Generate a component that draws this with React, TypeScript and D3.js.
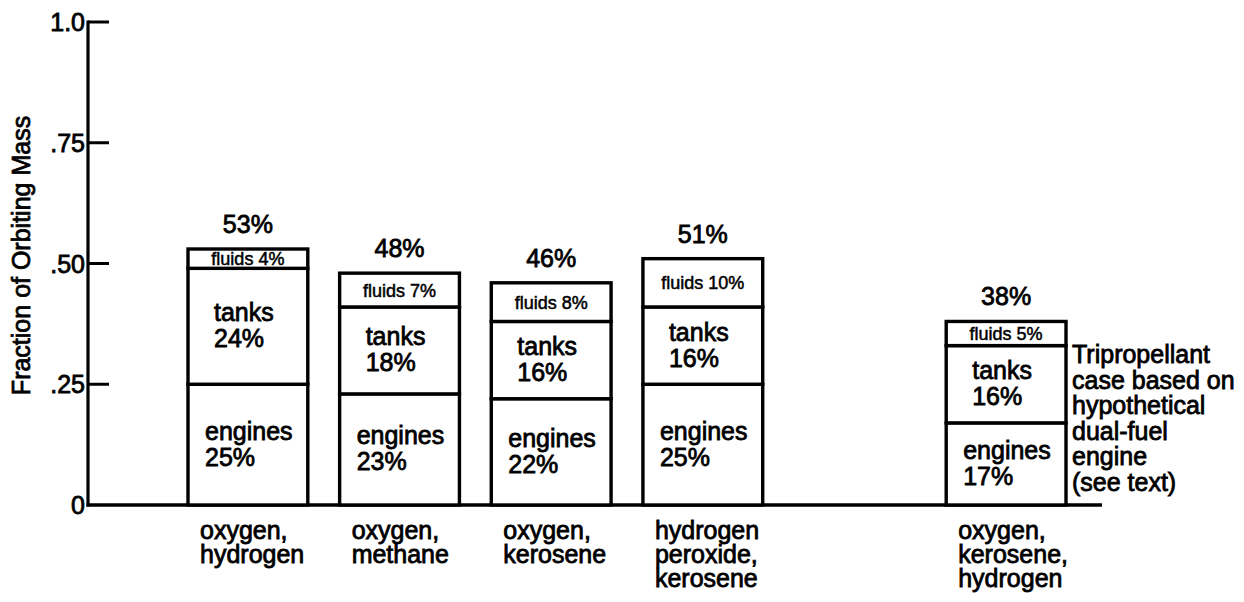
import { scaleBand, scaleLinear, stack } from "d3"

// bars, left to right (the gap before the tripropellant case is a blank slot)
const categories = ["O2-H2", "O2-CH4", "O2-RP", "H2O2-RP", "O2-RP-H2"]
const slots = ["O2-H2", "O2-CH4", "O2-RP", "H2O2-RP", "gap", "O2-RP-H2"]
const categoryLabels = [
  ["oxygen,", "hydrogen"],
  ["oxygen,", "methane"],
  ["oxygen,", "kerosene"],
  ["hydrogen", "peroxide,", "kerosene"],
  ["oxygen,", "kerosene,", "hydrogen"],
]

// percent of orbiting mass
const engines = [25, 23, 22, 25, 17]
const tanks = [24, 18, 16, 16, 16]
const fluids = [4, 7, 8, 10, 5]
const totals = [53, 48, 46, 51, 38]

const yTicks = [0, 0.25, 0.5, 0.75, 1]
const yTickLabels = ["0", ".25", ".50", ".75", "1.0"]
const note = ["Tripropellant", "case based on", "hypothetical", "dual-fuel", "engine", "(see text)"]

const font = "'Liberation Sans', Arial, Helvetica, sans-serif"

export default function App() {
  const width = 1244
  const height = 602
  const axisX = 88
  const axisEnd = 1102

  const y = scaleLinear().domain([0, 1]).range([505, 22])
  const x = scaleBand<string>().domain(slots).range([188, 1066]).paddingInner(0.21)
  const bw = x.bandwidth()

  const rows = categories.map((key, i) => ({
    key,
    engines: engines[i] / 100,
    tanks: tanks[i] / 100,
    fluids: fluids[i] / 100,
  }))
  const series = stack<any>().keys(["engines", "tanks", "fluids"])(rows)

  const txt = { fontFamily: font, fill: "#000", stroke: "#000", strokeWidth: 0.8 }

  return (
    <svg width={width} height={height} style={{ position: "absolute", left: 0, top: 0, background: "#fff" }}>
      {/* y axis */}
      <line x1={axisX} x2={axisX} y1={y(1) - 1.5} y2={y(0) + 1.5} stroke="#000" strokeWidth={3.2} />
      {yTicks.map((t, i) => (
        <g key={t}>
          {t > 0 && <line x1={axisX} x2={axisX + 21} y1={y(t)} y2={y(t)} stroke="#000" strokeWidth={3} />}
          <text x={axisX - 3} y={y(t)} dy="0.36em" textAnchor="end" fontSize={25} {...txt}>
            {yTickLabels[i]}
          </text>
        </g>
      ))}
      <text
        transform={`translate(30,${(y(0.75) + y(0.25)) / 2 - 8}) rotate(-90)`}
        textAnchor="middle"
        fontSize={25}
        {...txt}
      >
        Fraction of Orbiting Mass
      </text>

      {/* x axis */}
      <line x1={axisX - 1.5} x2={axisEnd} y1={y(0)} y2={y(0)} stroke="#000" strokeWidth={3.4} />

      {/* stacked bars */}
      {series.map((s) => (
        <g key={s.key}>
          {s.map((d, i) => {
            const left = x(categories[i]) ?? 0
            const top = y(d[1])
            const bottom = y(d[0])
            const mid = (top + bottom) / 2
            const pct = Math.round((d[1] - d[0]) * 100)
            const tx = left + (s.key === "tanks" ? 26 : 17)
            return (
              <g key={categories[i]}>
                <rect x={left} y={top} width={bw} height={bottom - top} fill="#fff" stroke="#000" strokeWidth={3.4} />
                {s.key === "fluids" ? (
                  <text x={left + bw / 2} y={mid} dy="0.36em" textAnchor="middle" fontSize={18} {...txt} strokeWidth={0.5}>
                    fluids {pct}%
                  </text>
                ) : (
                  <text x={tx} y={mid - 5} fontSize={25} {...txt}>
                    <tspan>{s.key}</tspan>
                    <tspan x={tx} dy={26}>{pct}%</tspan>
                  </text>
                )}
              </g>
            )
          })}
        </g>
      ))}

      {/* totals above bars */}
      {categories.map((c, i) => (
        <text key={c} x={(x(c) ?? 0) + bw / 2} y={y(totals[i] / 100) - 16} textAnchor="middle" fontSize={25} {...txt}>
          {totals[i]}%
        </text>
      ))}

      {/* category labels */}
      {categories.map((c, i) => (
        <text key={c} x={(x(c) ?? 0) + 12} y={y(0) + 34} fontSize={25} {...txt}>
          {categoryLabels[i].map((line, j) => (
            <tspan key={j} x={(x(c) ?? 0) + 12} dy={j === 0 ? 0 : 24}>
              {line}
            </tspan>
          ))}
        </text>
      ))}

      {/* note beside the tripropellant bar */}
      <text x={(x("O2-RP-H2") ?? 0) + bw + 6} y={363} fontSize={25} {...txt}>
        {note.map((line, j) => (
          <tspan key={j} x={(x("O2-RP-H2") ?? 0) + bw + 6} dy={j === 0 ? 0 : 25.6}>
            {line}
          </tspan>
        ))}
      </text>
    </svg>
  )
}
